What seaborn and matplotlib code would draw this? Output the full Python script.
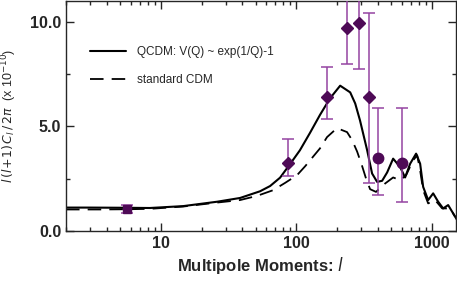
import numpy as np
import pandas as pd
import seaborn as sns
import matplotlib.pyplot as plt
from matplotlib.ticker import LogLocator, NullFormatter, FixedLocator, MultipleLocator

# theory curves (multipole l, l(l+1)C_l/2pi in 1e-10)
qcdm_l = [2.0, 3.0, 5.6, 8.3, 14.6, 26, 38.4, 53.9, 63.9, 75.7, 89.7, 106, 126, 149, 177, 210,
          249, 271, 294, 332, 361, 393, 428, 466, 516, 581, 632, 689, 762, 816, 859, 935,
          1018, 1108, 1206, 1313, 1430, 1530]
qcdm_v = [1.12, 1.12, 1.11, 1.10, 1.19, 1.40, 1.58, 1.90, 2.15, 2.55, 3.2, 3.86, 4.7, 5.55, 6.35, 6.95,
          6.63, 6.1, 5.29, 3.86, 2.75, 2.35, 2.40, 2.8, 3.46, 3.06, 2.56, 3.22, 3.70, 3.22, 2.11, 1.48,
          1.80, 1.40, 1.08, 1.24, 0.84, 0.52]

cdm_l = [2.0, 3.56, 5.6, 8.3, 14.6, 26, 38.4, 51.2, 67.2, 82.4, 101, 116, 132, 149, 168, 199,
         236, 257, 280, 305, 326, 349, 386, 413, 450, 516, 581, 643, 724, 776, 816, 859, 935,
         1052, 1186, 1358, 1479]
cdm_v = [1.03, 1.03, 1.04, 1.06, 1.17, 1.36, 1.48, 1.68, 1.95, 2.3, 2.67, 3.1, 3.54, 3.95, 4.49, 4.92,
         4.73, 4.35, 3.8, 3.1, 2.5, 2.0, 1.87, 2.05, 2.27, 2.56, 2.43, 2.67, 3.38, 3.62, 2.9, 1.95, 1.32,
         1.48, 1.08, 1.08, 0.68]

# measurements
obs_l = [5.6, 87, 168, 236, 290, 343, 400, 601]
obs_v = [1.05, 3.24, 6.43, 9.73, 9.95, 6.40, 3.48, 3.24]
obs_lo = [0.2, 0.62, 1.05, 1.73, 2.19, 4.11, 1.77, 1.86]
obs_hi = [0.2, 1.14, 1.39, 1.73, 2.19, 4.01, 2.42, 2.62]
obs_marker = ["s", "D", "D", "D", "D", "D", "o", "o"]

sns.set_style("ticks")
plt.rcParams["font.family"] = ["Liberation Sans", "DejaVu Sans"]
plt.rcParams["mathtext.fontset"] = "dejavusans"

fig = plt.figure(figsize=(4.57, 3.01), dpi=100)
ax = fig.add_axes([66 / 457, 1 - 231 / 301, 390 / 457, 230 / 301])

qcdm_df = pd.DataFrame({"l": qcdm_l, "v": qcdm_v})
cdm_df = pd.DataFrame({"l": cdm_l, "v": cdm_v})
sns.lineplot(data=qcdm_df, x="l", y="v", ax=ax, color="black", lw=1.5,
             estimator=None, sort=False, label="QCDM: V(Q) ~ exp(1/Q)-1")
sns.lineplot(data=cdm_df, x="l", y="v", ax=ax, color="black", lw=1.3,
             estimator=None, sort=False, label="standard CDM", dashes=False)
ax.lines[-1].set_dashes([7.5, 4.5])

bar_col = "#9444a2"
mk_col = "#4e0a56"
ax.errorbar(obs_l, obs_v, yerr=[obs_lo, obs_hi], fmt="none", ecolor=bar_col,
            elinewidth=1.1, capsize=4.3, capthick=1.1, zorder=3)
for l, v, m in zip(obs_l, obs_v, obs_marker):
    ms = {"s": 6, "D": 6.5, "o": 7.5}[m]
    ax.plot(l, v, marker=m, ms=ms, color=mk_col, mec=mk_col, ls="none", zorder=4)

ax.set_xscale("log")
ax.set_xlim(2, 1500)
ax.set_ylim(0, 11)
ax.xaxis.set_major_locator(FixedLocator([10, 100, 1000]))
ax.set_xticklabels(["10", "100", "1000"])
ax.xaxis.set_minor_locator(LogLocator(base=10, subs=np.arange(2, 10)))
ax.xaxis.set_minor_formatter(NullFormatter())
ax.yaxis.set_major_locator(FixedLocator([0, 5, 10]))
ax.set_yticklabels(["0.0", "5.0", "10.0"])
ax.yaxis.set_minor_locator(MultipleLocator(2.5))

ax.tick_params(which="both", direction="in", top=True, right=True, width=1.0)
ax.tick_params(which="major", length=6, labelsize=11.5)
ax.tick_params(which="minor", length=3)
for t in ax.get_xticklabels() + ax.get_yticklabels():
    t.set_fontweight("bold")
for s in ax.spines.values():
    s.set_linewidth(1.0)
    s.set_visible(True)

ax.set_xlabel(r"Multipole Moments: $\mathit{l}$", fontsize=12, fontweight="bold", labelpad=3)
ax.set_ylabel(r"$l\,(l\!+\!1)\,C_l\,/\,2\pi$  (x 10$^{-10}$)", fontsize=9, labelpad=8)

leg = ax.legend(loc="upper left", bbox_to_anchor=(0.035, 0.85), frameon=False, fontsize=8.5,
                handlelength=3.0, handletextpad=1.0, labelspacing=1.35)

fig.savefig("out.png", dpi=100)
